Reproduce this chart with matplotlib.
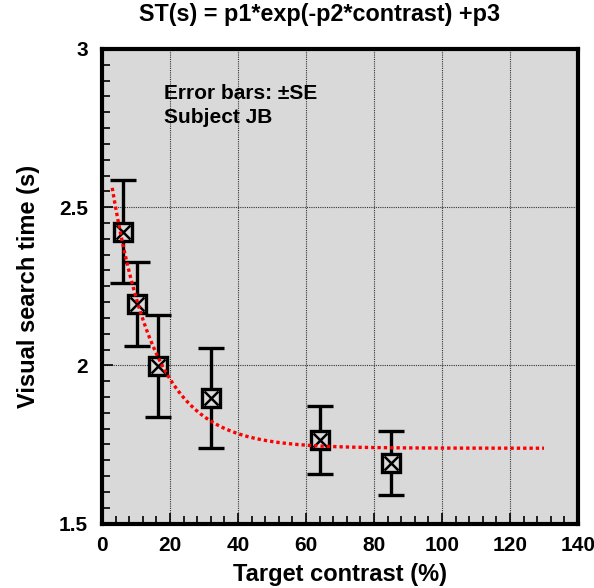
import numpy as np
import matplotlib
matplotlib.use("Agg")
import matplotlib.pyplot as plt
from matplotlib.ticker import MultipleLocator

plt.rcParams['font.family'] = ['Liberation Sans', 'DejaVu Sans']
plt.rcParams['font.weight'] = 'bold'

# data
contrast = [6.25, 10.2, 16.4, 32.2, 64.2, 85.1]
search_time = [2.423, 2.194, 1.999, 1.896, 1.764, 1.692]
se = [0.163, 0.133, 0.161, 0.158, 0.109, 0.101]

# fit parameters for ST(s) = p1*exp(-p2*contrast) + p3
p1 = 1.04
p2 = 0.078
p3 = 1.738
fit_start = 3
fit_end = 130

bg = '#d9d9d9'

fig = plt.figure(figsize=(5.94, 5.88), dpi=100)
ax = fig.add_axes([102 / 594, 1 - 523.5 / 588, 476 / 594, 474.5 / 588])
ax.set_facecolor(bg)

ax.set_xlim(0, 140)
ax.set_ylim(1.5, 3)
ax.xaxis.set_major_locator(MultipleLocator(20))
ax.xaxis.set_minor_locator(MultipleLocator(4))
ax.yaxis.set_major_locator(MultipleLocator(0.5))
ax.yaxis.set_minor_locator(MultipleLocator(0.05))
ax.set_yticks([1.5, 2, 2.5, 3])
ax.set_yticklabels(['1.5', '2', '2.5', '3'])

ax.grid(True, which='major', color='#333333', linestyle=(0, (1, 1)), linewidth=0.8)
ax.set_axisbelow(True)

for s in ax.spines.values():
    s.set_linewidth(3)
ax.tick_params(which='both', direction='in', top=False, right=False, width=1.2,
               labelsize=15)
ax.tick_params(axis='y', pad=10)
ax.tick_params(axis='x', pad=9)
ax.tick_params(which='major', length=8)
ax.tick_params(which='minor', length=6)

# error bars
ax.errorbar(contrast, search_time, yerr=se, fmt='none', ecolor='black',
            elinewidth=2.4, capsize=9.5, capthick=2.4, zorder=3)

# boxed-x markers
ax.plot(contrast, search_time, linestyle='none', marker='s', markersize=13.5,
        markerfacecolor=bg, markeredgecolor='black', markeredgewidth=2.4, zorder=4)
ax.plot(contrast, search_time, linestyle='none', marker='x', markersize=10,
        markeredgecolor='black', markeredgewidth=1.8, zorder=5)

# fitted curve
xf = np.linspace(fit_start, fit_end, 300)
yf = p1 * np.exp(-p2 * xf) + p3
ax.plot(xf, yf, color='red', linewidth=2.4, linestyle=(0, (1, 0.9)), zorder=6)

ax.text(18.2, 2.843, 'Error bars: \u00b1SE', fontsize=15, fontweight='bold',
        va='baseline', ha='left')
ax.text(18.2, 2.767, 'Subject JB', fontsize=15, fontweight='bold',
        va='baseline', ha='left')

fig.text(320 / 594, 1 - 21 / 588, 'ST(s) = p1*exp(-p2*contrast) +p3', fontsize=16.8,
         fontweight='bold', ha='center', va='baseline')
ax.set_xlabel('Target contrast (%)', fontsize=17, fontweight='bold', labelpad=6)
ax.set_ylabel('Visual search time (s)', fontsize=17, fontweight='bold', labelpad=14)

fig.savefig('out.png', dpi=100)
